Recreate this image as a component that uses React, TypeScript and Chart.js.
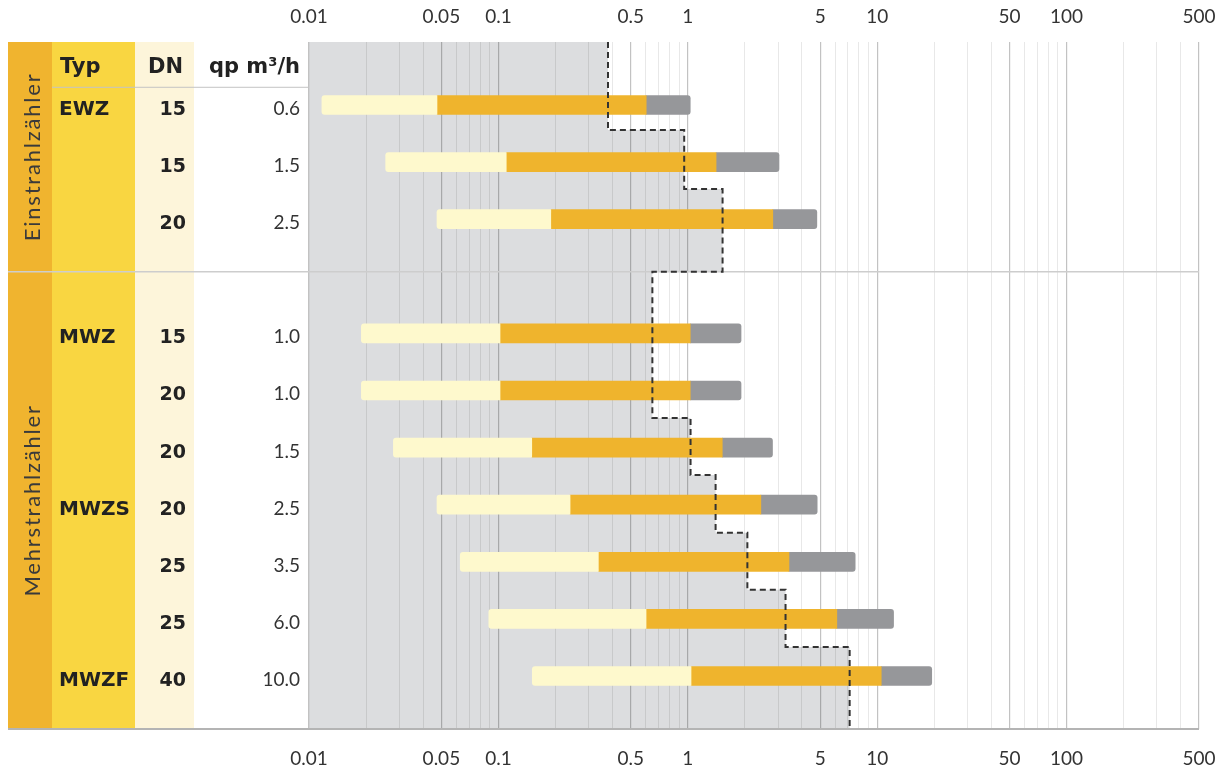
import React, { useEffect, useRef } from 'react';
import { Chart, registerables } from 'chart.js';

Chart.register(...registerables);

// ---------------- data ----------------
const rowPositions = [0, 1, 2, 4, 5, 6, 7, 8, 9, 10];
const typeLabels = ['EWZ', '', '', 'MWZ', '', '', 'MWZS', '', '', 'MWZF'];
const dnValues = ['15', '15', '20', '15', '20', '20', '20', '25', '25', '40'];
const qpLabels = ['0.6', '1.5', '2.5', '1.0', '1.0', '1.5', '2.5', '3.5', '6.0', '10.0'];
// bar segment limits (m³/h)
const q1Values = [0.0117, 0.0254, 0.0474, 0.0189, 0.0189, 0.0279, 0.0474, 0.0629, 0.089, 0.151];
const q2Values = [0.0474, 0.11, 0.189, 0.102, 0.102, 0.15, 0.239, 0.337, 0.602, 1.04];
const q3Values = [0.603, 1.41, 2.81, 1.03, 1.03, 1.52, 2.43, 3.42, 6.12, 10.5];
const q4Values = [1.03, 3.03, 4.8, 1.91, 1.91, 2.8, 4.82, 7.65, 12.2, 19.4];
// dashed step limit line
const limitValues = [0.379, 0.957, 1.526, 0.65, 1.034, 1.402, 2.063, 3.281, 7.153];
const limitBreaks = [0.44, 1.47, 2.92, 5.48, 6.48, 7.49, 8.49, 9.49];
// axis ticks
const tickValues = [0.01, 0.05, 0.1, 0.5, 1, 5, 10, 50, 100, 500];
const tickLabels = ['0.01', '0.05', '0.1', '0.5', '1', '5', '10', '50', '100', '500'];
const groupLabels = ['Einstrahlzähler', 'Mehrstrahlzähler'];
const headerLabels = ['Typ', 'DN', 'qp m³/h'];

const X_MIN = 0.01;
const X_MAX = 500;
const Y_MIN = -1.103;
const Y_MAX = 10.928;
const SEP_Y = 2.92;
const HEAD_Y = -0.31;

const gridValues: number[] = [];
for (let e = -2; e <= 2; e++) {
  for (let m = 1; m <= 9; m++) {
    const v = Number((m * Math.pow(10, e)).toPrecision(2));
    if (v <= X_MAX) gridValues.push(v);
  }
}
const isMajor = (v: number) => tickValues.some((t) => Math.abs(t - v) / t < 1e-6);
const labelFor = (v: number) => {
  const i = tickValues.findIndex((t) => Math.abs(t - v) / t < 1e-6);
  return i >= 0 ? tickLabels[i] : '';
};

const limitBounds = [Y_MIN, ...limitBreaks, Y_MAX];
const limitPoints: { x: number; y: number }[] = [];
limitValues.forEach((x, i) => {
  limitPoints.push({ x, y: limitBounds[i] });
  limitPoints.push({ x, y: limitBounds[i + 1] });
});

const COL_ORANGE = '#F0B42F';
const COL_YELLOW = '#F9D641';
const COL_CREAM = '#FDF5DA';
const BOLD = '"DejaVu Sans", sans-serif';
const LIGHT = 'Lato, sans-serif';

const tablePlugin = {
  id: 'meterTable',
  beforeDraw(chart: any) {
    const { ctx, chartArea } = chart;
    const xs = chart.scales.x;
    const ys = chart.scales.y;
    const top = chartArea.top;
    const bottom = chartArea.bottom;
    ctx.save();
    // table columns
    ctx.fillStyle = COL_ORANGE;
    ctx.fillRect(8, top, 44, bottom - top);
    ctx.fillStyle = COL_YELLOW;
    ctx.fillRect(52, top, 83, bottom - top);
    ctx.fillStyle = COL_CREAM;
    ctx.fillRect(135, top, 59, bottom - top);
    // grey region left of the limit line
    ctx.beginPath();
    ctx.moveTo(chartArea.left, ys.getPixelForValue(Y_MIN));
    limitValues.forEach((v, i) => {
      const px = xs.getPixelForValue(v);
      ctx.lineTo(px, ys.getPixelForValue(limitBounds[i]));
      ctx.lineTo(px, ys.getPixelForValue(limitBounds[i + 1]));
    });
    ctx.lineTo(chartArea.left, ys.getPixelForValue(Y_MAX));
    ctx.closePath();
    ctx.fillStyle = '#DCDDDF';
    ctx.fill();
    ctx.restore();
  },
  beforeDatasetsDraw(chart: any) {
    const { ctx, chartArea } = chart;
    const ys = chart.scales.y;
    ctx.save();
    const sy = ys.getPixelForValue(SEP_Y);
    ctx.strokeStyle = '#CDCDCD';
    ctx.lineWidth = 1.5;
    ctx.beginPath();
    ctx.moveTo(8, sy);
    ctx.lineTo(chartArea.right, sy);
    ctx.stroke();
    ctx.restore();
  },
  afterDraw(chart: any) {
    const { ctx, chartArea } = chart;
    const ys = chart.scales.y;
    ctx.save();
    // header underline
    const hy = ys.getPixelForValue(HEAD_Y);
    ctx.strokeStyle = '#C4C4C4';
    ctx.lineWidth = 1;
    ctx.beginPath();
    ctx.moveTo(52, hy);
    ctx.lineTo(chartArea.left, hy);
    ctx.stroke();
    // bottom rule
    ctx.strokeStyle = '#B4B4B4';
    ctx.lineWidth = 2;
    ctx.beginPath();
    ctx.moveTo(8, chartArea.bottom);
    ctx.lineTo(chartArea.right, chartArea.bottom);
    ctx.stroke();

    // headers
    ctx.fillStyle = '#222';
    ctx.textBaseline = 'alphabetic';
    ctx.font = `bold 21px ${BOLD}`;
    ctx.textAlign = 'left';
    ctx.fillText(headerLabels[0], 60, 73);
    ctx.textAlign = 'right';
    ctx.fillText(headerLabels[1], 183, 73);
    ctx.fillText(headerLabels[2], 300, 73);

    // rows
    rowPositions.forEach((r, i) => {
      const y = ys.getPixelForValue(r) + 10;
      ctx.fillStyle = '#222';
      if (typeLabels[i]) {
        ctx.font = `bold 20px ${BOLD}`;
        ctx.textAlign = 'left';
        ctx.fillText(typeLabels[i], 59, y);
      }
      ctx.font = `bold 19px ${BOLD}`;
      ctx.textAlign = 'right';
      ctx.fillText(dnValues[i], 186, y);
      ctx.fillStyle = '#333';
      ctx.font = `19px ${LIGHT}`;
      ctx.fillText(qpLabels[i], 300, y);
    });

    // rotated group labels
    const centers = [
      (ys.getPixelForValue(Y_MIN) + ys.getPixelForValue(SEP_Y)) / 2,
      (ys.getPixelForValue(SEP_Y) + ys.getPixelForValue(Y_MAX)) / 2,
    ];
    groupLabels.forEach((t, i) => {
      ctx.save();
      ctx.translate(40, centers[i]);
      ctx.rotate(-Math.PI / 2);
      ctx.fillStyle = '#3A3A3A';
      ctx.font = `22px ${LIGHT}`;
      try {
        (ctx as any).letterSpacing = '1.8px';
      } catch (e) {}
      ctx.textAlign = 'center';
      ctx.textBaseline = 'alphabetic';
      ctx.fillText(t, 0, 0);
      ctx.restore();
    });
    ctx.restore();
  },
};

const barBase = {
  type: 'bar' as const,
  barThickness: 19,
  grouped: false,
  borderSkipped: false as const,
  xAxisID: 'x',
  yAxisID: 'y',
  order: 1,
};

export default function App() {
  const ref = useRef<HTMLCanvasElement>(null);
  useEffect(() => {
    if (!ref.current) return;
    const tickConf = (padding: number) => ({
      autoSkip: false,
      maxRotation: 0,
      minRotation: 0,
      padding,
      color: '#333',
      font: { family: LIGHT, size: 19, lineHeight: 2.5 },
      callback: (v: any) => labelFor(Number(v)),
    });
    const chart = new Chart(ref.current, {
      type: 'bar',
      data: {
        datasets: [
          {
            type: 'line',
            label: 'Grenze',
            data: limitPoints,
            borderColor: '#333',
            borderWidth: 2,
            borderDash: [6, 4],
            pointRadius: 0,
            fill: false,
            tension: 0,
            xAxisID: 'x',
            yAxisID: 'y',
            order: 0,
          } as any,
          {
            ...barBase,
            label: 'Q1–Q2',
            data: rowPositions.map((y, i) => ({ x: [q1Values[i], q2Values[i]], y })),
            backgroundColor: '#FEF9CD',
            borderRadius: { topLeft: 3, bottomLeft: 3, topRight: 0, bottomRight: 0 },
          } as any,
          {
            ...barBase,
            label: 'Q2–Q3',
            data: rowPositions.map((y, i) => ({ x: [q2Values[i], q3Values[i]], y })),
            backgroundColor: '#EFB42D',
            borderRadius: 0,
          } as any,
          {
            ...barBase,
            label: 'Q3–Q4',
            data: rowPositions.map((y, i) => ({ x: [q3Values[i], q4Values[i]], y })),
            backgroundColor: '#96979A',
            borderRadius: { topLeft: 0, bottomLeft: 0, topRight: 3, bottomRight: 3 },
          } as any,
        ],
      },
      options: {
        indexAxis: 'y',
        responsive: true,
        maintainAspectRatio: false,
        animation: false,
        layout: { padding: { left: 309, right: 27, top: -8.8, bottom: -16 } },
        plugins: { legend: { display: false }, tooltip: { enabled: false } },
        scales: {
          x: {
            type: 'logarithmic',
            position: 'bottom',
            min: X_MIN,
            max: X_MAX,
            bounds: 'data',
            afterBuildTicks: (s: any) => {
              s.ticks = gridValues.map((v) => ({ value: v }));
            },
            ticks: tickConf(6.25),
            grid: {
              drawTicks: false,
              lineWidth: (c: any) => (c.tick && isMajor(c.tick.value) ? 1.2 : 1),
              color: (c: any) =>
                c.tick && isMajor(c.tick.value) ? 'rgba(0,0,0,0.24)' : 'rgba(0,0,0,0.09)',
            },
            border: { display: false },
          },
          x2: {
            type: 'logarithmic',
            position: 'top',
            min: X_MIN,
            max: X_MAX,
            bounds: 'data',
            afterBuildTicks: (s: any) => {
              s.ticks = gridValues.map((v) => ({ value: v }));
            },
            ticks: tickConf(1.65),
            grid: { display: false, drawTicks: false },
            border: { display: false },
          },
          y: {
            type: 'linear',
            min: Y_MIN,
            max: Y_MAX,
            reverse: true,
            offset: false,
            grid: { offset: false },
            display: false,
          },
        },
      } as any,
      plugins: [tablePlugin],
    });
    return () => chart.destroy();
  }, []);
  return (
    <div style={{ position: 'absolute', left: 0, top: 0, width: 1226, height: 773 }}>
      <canvas ref={ref} />
    </div>
  );
}
